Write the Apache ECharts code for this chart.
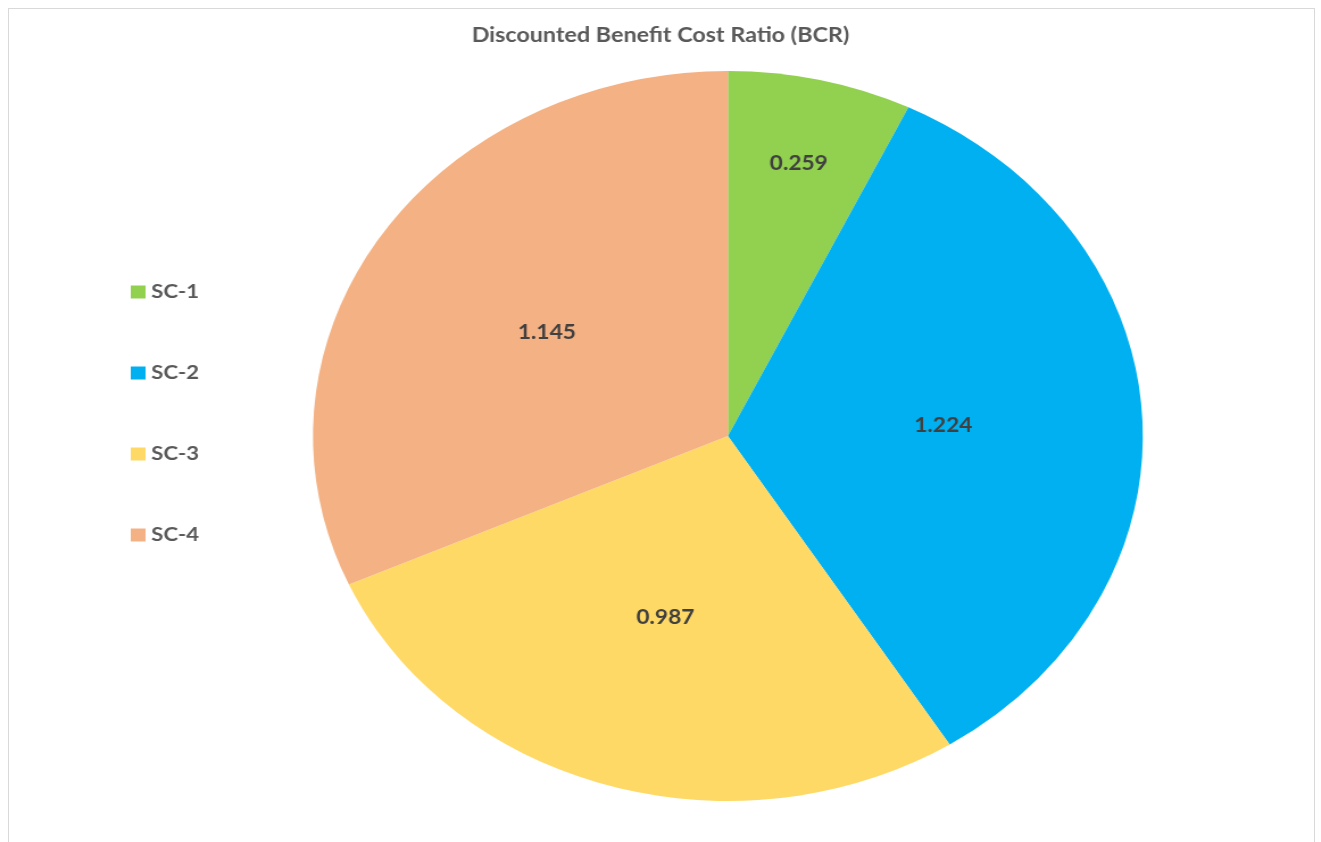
<!DOCTYPE html>
<html>
<head>
<meta charset="utf-8">
<script src="https://cdn.jsdelivr.net/npm/echarts@6/dist/echarts.min.js"></script>
<style>
  html, body { margin: 0; padding: 0; background: #ffffff; overflow: hidden; }
  #frame {
    position: absolute; left: 8px; top: 8px; width: 1307px; height: 850px;
    border: 1px solid #d9d9d9; box-sizing: border-box;
  }
  /* the chart is laid out on a narrower canvas and widened horizontally */
  #chart {
    position: absolute; left: 0; top: 0; width: 1162px; height: 842px;
    transform-origin: 0 0; transform: scaleX(1.1368);
  }
</style>
</head>
<body>
<div id="frame"></div>
<div id="chart"></div>
<script>
const scenarios = ['SC-1', 'SC-2', 'SC-3', 'SC-4'];
const bcrValues = [0.259, 1.224, 0.987, 1.145];
const sliceColors = ['#92D050', '#00B0F0', '#FFD966', '#F4B183'];

const CENTER = [640.3, 436];
const RADIUS = 365;

const total = bcrValues.reduce((a, b) => a + b, 0);

// place each value label along its slice's bisector; thin slices get pushed outward
function placeLabel(params) {
  const i = params.dataIndex;
  let before = 0;
  for (let k = 0; k < i; k++) before += bcrValues[k];
  const span = bcrValues[i] / total * 2 * Math.PI;
  const mid = before / total * 2 * Math.PI + span / 2;
  const rho = span < Math.PI / 4 ? 0.765 : 0.52;
  return {
    x: CENTER[0] + rho * RADIUS * Math.sin(mid),
    y: CENTER[1] - rho * RADIUS * Math.cos(mid),
    align: 'center',
    verticalAlign: 'middle'
  };
}

const chart = echarts.init(document.getElementById('chart'), null, { renderer: 'canvas' });
chart.setOption({
  animation: false,
  color: sliceColors,
  title: {
    text: 'Discounted Benefit Cost Ratio (BCR)',
    left: 'center',
    top: 20,
    textStyle: { fontFamily: 'Lato', fontWeight: 'bold', fontSize: 20.5, color: '#595959' }
  },
  legend: {
    orient: 'vertical',
    left: 110,
    top: 277,
    itemWidth: 13,
    itemHeight: 13,
    itemGap: 61,
    icon: 'rect',
    data: scenarios,
    textStyle: { fontFamily: 'Lato', fontWeight: 'bold', fontSize: 19.5, lineHeight: 20, color: '#595959' }
  },
  series: [{
    type: 'pie',
    center: CENTER,
    radius: RADIUS,
    startAngle: 90,
    clockwise: true,
    avoidLabelOverlap: false,
    itemStyle: { borderWidth: 0 },
    label: {
      show: true,
      position: 'inside',
      formatter: p => p.value.toFixed(3),
      fontFamily: 'Lato',
      fontWeight: 'bold',
      fontSize: 20,
      color: '#404040'
    },
    labelLine: { show: false },
    labelLayout: placeLabel,
    emphasis: { disabled: true },
    data: scenarios.map((name, i) => ({ name, value: bcrValues[i] }))
  }]
});
</script>
</body>
</html>
